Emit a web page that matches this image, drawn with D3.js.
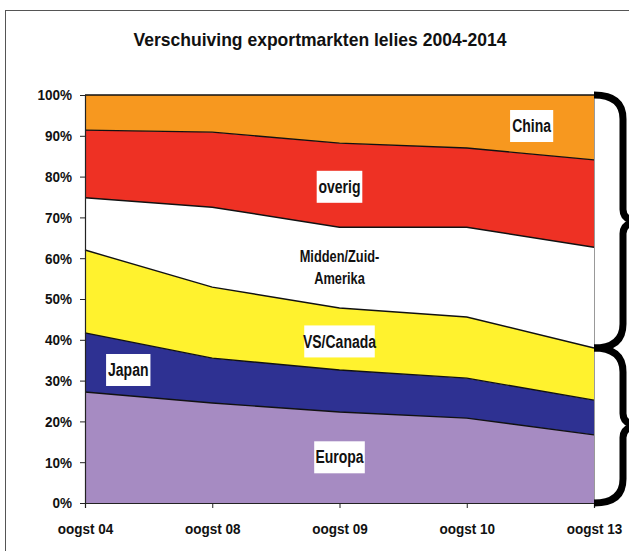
<!DOCTYPE html>
<html>
<head>
<meta charset="utf-8">
<script src="https://cdn.jsdelivr.net/npm/d3@7"></script>
<style>
  body { margin: 0; background: #fff; }
  text { font-family: "Liberation Sans", Arial, sans-serif; font-weight: bold; fill: #111; }
</style>
</head>
<body>
<div id="chart"></div>
<script>
// data (share of export, %)
const categories = ["oogst 04", "oogst 08", "oogst 09", "oogst 10", "oogst 13"];
const europa   = [27.2, 24.5, 22.3, 20.8, 16.7];
const japan    = [14.5, 11.0, 10.3,  9.8,  8.5];
const vsCanada = [20.3, 17.4, 15.2, 15.0, 12.8];
const middenZuidAmerika = [12.8, 19.6, 19.8, 22.0, 24.7];
const overig   = [16.6, 18.4, 20.6, 19.4, 21.4];
const china    = [ 8.6,  9.1, 11.8, 13.0, 15.9];
const yTicks = [0, 10, 20, 30, 40, 50, 60, 70, 80, 90, 100];

const keys = ["Europa", "Japan", "VS/Canada", "Midden/Zuid-Amerika", "overig", "China"];
const seriesValues = [europa, japan, vsCanada, middenZuidAmerika, overig, china];
const colors = ["#a68bc2", "#2e3192", "#fff22e", "#ffffff", "#ee3124", "#f7981f"];

const table = categories.map((c, i) => {
  const row = { cat: c };
  keys.forEach((k, j) => row[k] = seriesValues[j][i]);
  return row;
});

const W = 629, H = 551;
const mLeft = 85, mRight = 594, mTop = 95, mBottom = 503;

const svg = d3.select("#chart").append("svg")
  .attr("width", W).attr("height", H);

// outer frame
svg.append("rect")
  .attr("x", 5.5).attr("y", 10.5)
  .attr("width", 700).attr("height", 700)
  .attr("fill", "none").attr("stroke", "#555").attr("stroke-width", 1);

// the original font looks horizontally condensed
function condense(sel, k) {
  sel.each(function() {
    const w = this.getComputedTextLength();
    d3.select(this).attr("textLength", w * k).attr("lengthAdjust", "spacingAndGlyphs");
  });
  return sel;
}

svg.append("text")
  .attr("x", 320).attr("y", 46)
  .attr("text-anchor", "middle")
  .style("font-size", "18.5px")
  .attr("textLength", 373).attr("lengthAdjust", "spacingAndGlyphs")
  .text("Verschuiving exportmarkten lelies 2004-2014");

const x = d3.scalePoint().domain(categories).range([mLeft, mRight]);
const xi = d3.scaleLinear().domain([0, categories.length - 1]).range([mLeft, mRight]);
const y = d3.scaleLinear().domain([0, 100]).range([mBottom, mTop]);

const stacked = d3.stack().keys(keys)(table);

const area = d3.area()
  .x(d => x(d.data.cat))
  .y0(d => y(d[0]))
  .y1(d => y(d[1]));
const line = d3.line()
  .x(d => x(d.data.cat))
  .y(d => y(d[1]));

svg.selectAll("path.area")
  .data(stacked)
  .join("path")
  .attr("class", "area")
  .attr("fill", (d, i) => colors[i])
  .attr("d", area);

svg.selectAll("path.edge")
  .data(stacked)
  .join("path")
  .attr("class", "edge")
  .attr("fill", "none")
  .attr("stroke", "#111")
  .attr("stroke-width", 1.4)
  .attr("d", line);

// right border of plot
svg.append("line")
  .attr("x1", mRight + 0.5).attr("x2", mRight + 0.5)
  .attr("y1", mTop).attr("y2", mBottom)
  .attr("stroke", "#999").attr("stroke-width", 1);

// axes
const yAxis = svg.append("g")
  .attr("transform", `translate(${mLeft},0)`)
  .call(d3.axisLeft(y).tickValues(yTicks).tickFormat(d => d + "%").tickSize(5).tickPadding(8));
const xAxis = svg.append("g")
  .attr("transform", `translate(0,${mBottom})`)
  .call(d3.axisBottom(x).tickSize(5).tickPadding(12));

[yAxis, xAxis].forEach(g => {
  g.select(".domain").attr("stroke", "#222").attr("stroke-width", 1.2);
  g.selectAll(".tick line").attr("stroke", "#222");
  g.selectAll("text").style("font-size", "15px").attr("fill", "#111")
    .attr("font-family", null).call(condense, 0.9);
});
xAxis.selectAll("text").attr("dy", "0.9em");

// in-chart labels (category index, value %)
const labels = [
  { text: ["China"], at: 3.51, v: 92.4, box: true, size: 17.5 },
  { text: ["overig"], at: 2.0, v: 77.5, box: true, size: 17.5 },
  { text: ["Midden/Zuid-", "Amerika"], at: 2.0, v: 57.8, box: false, size: 16 },
  { text: ["VS/Canada"], at: 2.0, v: 39.6, box: true, size: 17.5 },
  { text: ["Japan"], at: 0.34, v: 32.6, box: true, size: 17.5 },
  { text: ["Europa"], at: 2.0, v: 11.2, box: true, size: 17.5 }
];
const labelSqueeze = 0.8;

labels.forEach(l => {
  const g = svg.append("g").attr("transform", `translate(${xi(l.at)},${y(l.v)})`);
  const rect = g.append("rect").attr("fill", "#fff");
  const lh = 22;
  const t = g.selectAll("text").data(l.text).join("text")
    .attr("text-anchor", "middle")
    .attr("y", (d, i) => (i - (l.text.length - 1) / 2) * lh)
    .attr("dy", "0.35em")
    .style("font-size", l.size + "px")
    .text(d => d)
    .call(condense, labelSqueeze);
  if (l.box) {
    const w = d3.max(t.nodes(), n => n.getComputedTextLength()) * labelSqueeze + 12;
    const h = 32;
    rect.attr("x", -w / 2).attr("y", -h / 2).attr("width", w).attr("height", h);
  } else {
    rect.remove();
  }
});

// curly braces on the right
const split = d3.sum([europa, japan, vsCanada], s => s[s.length - 1]);
function brace(y1, y2) {
  const xa = mRight, xb = 623, tip = 642, r = 24;
  const ym = (y1 + y2) / 2;
  return `M${xa},${y1} Q${xb},${y1} ${xb},${y1 + r} L${xb},${ym - 12} Q${xb},${ym} ${tip},${ym}` +
         ` Q${xb},${ym} ${xb},${ym + 12} L${xb},${y2 - r} Q${xb},${y2} ${xa},${y2}`;
}
svg.append("path")
  .attr("d", brace(y(100), y(split)))
  .attr("fill", "none").attr("stroke", "#000").attr("stroke-width", 7);
svg.append("path")
  .attr("d", brace(y(split), y(0)))
  .attr("fill", "none").attr("stroke", "#000").attr("stroke-width", 7);
</script>
</body>
</html>
